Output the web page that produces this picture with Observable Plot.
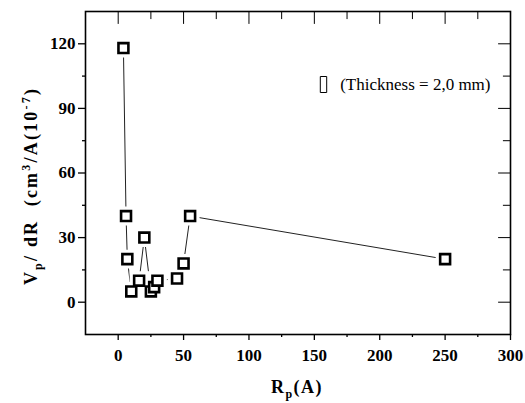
<!DOCTYPE html>
<html>
<head>
<meta charset="utf-8">
<script src="https://cdn.jsdelivr.net/npm/d3@7"></script>
<script src="https://cdn.jsdelivr.net/npm/@observablehq/plot@0.6"></script>
<style>
  html, body { margin: 0; padding: 0; background: #fff; }
  #chart { width: 525px; height: 403px; }
</style>
</head>
<body>
<div id="chart"></div>
<script>
// Data
const rp = [4, 6, 7, 10, 16, 20, 25, 27.5, 30, 45, 50, 55, 250];        // R_p (A)
const vp = [118, 40, 20, 5, 10, 30, 5, 7, 10, 11, 18, 40, 20];          // V_p/dR (cm3/A 10^-7)
const xTicks = [0, 50, 100, 150, 200, 250, 300];
const xMinor = [25, 75, 125, 175, 225, 275];
const yTicks = [0, 30, 60, 90, 120];
const yMinor = [15, 45, 75, 105];
const legendLabel = "(Thickness = 2,0 mm)";

const data = rp.map((x, i) => ({x, y: vp[i]}));
const none = () => "";
const font = "Liberation Serif, Times New Roman, serif";
const tallRect = {draw(ctx) { ctx.rect(-3.2, -8, 6.4, 16); }};
const plainTick = {draw(ctx, l) { ctx.moveTo(0, 0); ctx.lineTo(0, -l); }};

const chart = Plot.plot({
  width: 525,
  height: 403,
  marginLeft: 85,
  marginRight: 15,
  marginTop: 11,
  marginBottom: 69,
  style: {fontFamily: font, background: "#fff", color: "#000"},
  x: {domain: [-25, 300]},
  y: {domain: [-15, 135]},
  marks: [
    Plot.axisX({ticks: xTicks, tickSize: 6, tickPadding: 8, fontSize: 17, fontWeight: "bold", letterSpacing: -0.8, label: null, strokeWidth: 1.3}),
    Plot.axisX({ticks: xMinor, tickSize: 3, tickFormat: none, label: null, strokeWidth: 1.3}),
    Plot.axisY({ticks: yTicks, tickSize: 7, tickPadding: 3, fontSize: 17, fontWeight: "bold", letterSpacing: -0.8, label: null, strokeWidth: 1.3}),
    Plot.axisY({ticks: yMinor, tickSize: 3, tickFormat: none, label: null, strokeWidth: 1.3}),
    // inward ticks on the top and right edges
    Plot.vector(xTicks.concat(xMinor), {x: d => d, frameAnchor: "top", length: d => xTicks.includes(d) ? 5 : 3, rotate: 180, anchor: "start", shape: plainTick, stroke: "#000", strokeWidth: 1}),
    Plot.vector(yTicks.concat(yMinor), {y: d => d, frameAnchor: "right", length: d => yTicks.includes(d) ? 5 : 3, rotate: -90, anchor: "start", shape: plainTick, stroke: "#000", strokeWidth: 1}),
    Plot.frame({stroke: "#000", strokeWidth: 1.6}),
    Plot.line(data, {x: "x", y: "y", stroke: "#222", strokeWidth: 1}),
    Plot.dot(data, {x: "x", y: "y", symbol: "square", r: 5.6, fill: "#fff", stroke: "#fff", strokeWidth: 9}),
    Plot.dot(data, {x: "x", y: "y", symbol: "square", r: 5.6, fill: "#fff", stroke: "#000", strokeWidth: 2.6}),
    Plot.dot([legendLabel], {frameAnchor: "top-right", dx: -187, dy: 73, symbol: tallRect, r: 5, fill: "none", stroke: "#000", strokeWidth: 1}),
    Plot.text([legendLabel], {frameAnchor: "top-right", dx: -20, dy: 73, textAnchor: "end", lineAnchor: "middle", fontSize: 17, fontFamily: font, letterSpacing: -0.1, fill: "#000"})
  ]
});
document.getElementById("chart").appendChild(chart);

// Axis titles with sub/superscripts
const svg = d3.select(chart);
const xl = svg.append("text")
  .attr("x", 297).attr("y", 393)
  .attr("text-anchor", "middle")
  .attr("font-family", font).attr("font-weight", "bold").attr("font-size", 18)
  .attr("letter-spacing", 1.5)
  .attr("fill", "#000");
xl.append("tspan").text("R");
xl.append("tspan").attr("dy", 5).attr("font-size", 12).text("p");
xl.append("tspan").attr("dy", -5).text("(A)");

const yl = svg.append("text")
  .attr("transform", "translate(37,186) rotate(-90)")
  .attr("text-anchor", "middle")
  .attr("font-family", font).attr("font-weight", "bold").attr("font-size", 18)
  .attr("letter-spacing", 2.2)
  .attr("fill", "#000")
  .style("white-space", "pre");
yl.append("tspan").text("V");
yl.append("tspan").attr("dy", 5).attr("font-size", 12).text("p");
yl.append("tspan").attr("dy", -5).text("/ dR  (cm");
yl.append("tspan").attr("dy", -7).attr("font-size", 12).text("3");
yl.append("tspan").attr("dy", 7).text("/A(10");
yl.append("tspan").attr("dy", -7).attr("font-size", 12).text("-7");
yl.append("tspan").attr("dy", 7).text(")");
</script>
</body>
</html>
